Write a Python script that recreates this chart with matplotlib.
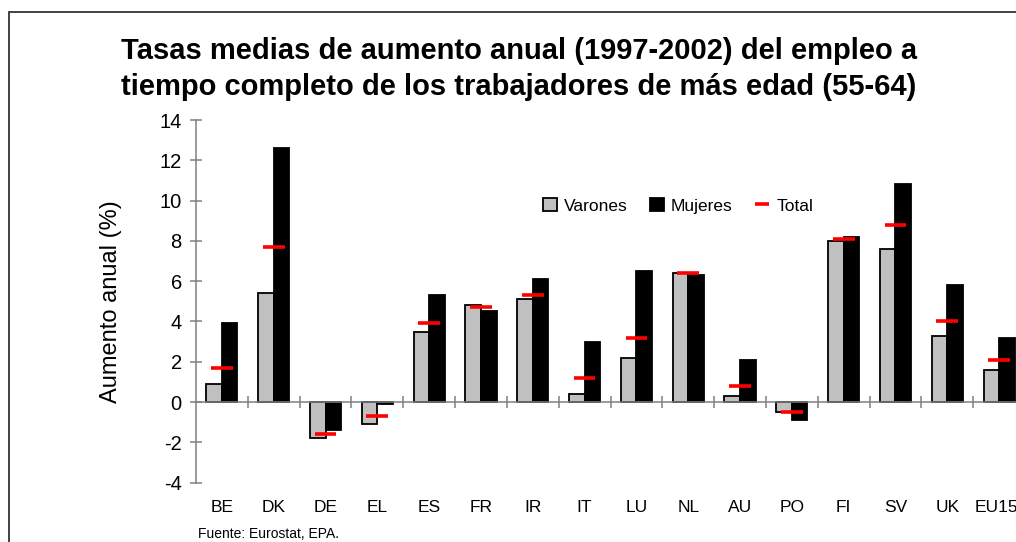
import numpy as np
import matplotlib
matplotlib.use("Agg")
import matplotlib.pyplot as plt
from matplotlib.patches import Rectangle

plt.rcParams['font.family'] = ['Liberation Sans', 'DejaVu Sans']
plt.rcParams['axes.unicode_minus'] = False

categories = ["BE", "DK", "DE", "EL", "ES", "FR", "IR", "IT", "LU", "NL",
              "AU", "PO", "FI", "SV", "UK", "EU15"]
varones = [0.9, 5.4, -1.8, -1.1, 3.5, 4.8, 5.1, 0.4, 2.2, 6.4,
           0.3, -0.5, 8.0, 7.6, 3.3, 1.6]
mujeres = [3.9, 12.6, -1.4, -0.1, 5.3, 4.5, 6.1, 3.0, 6.5, 6.3,
           2.1, -0.9, 8.2, 10.8, 5.8, 3.2]
total = [1.7, 7.7, -1.6, -0.7, 3.9, 4.7, 5.3, 1.2, 3.2, 6.4,
         0.8, -0.5, 8.1, 8.8, 4.0, 2.1]
yticks = [-4, -2, 0, 2, 4, 6, 8, 10, 12, 14]

W, H = 1016, 542
fig = plt.figure(figsize=(W / 100, H / 100), dpi=100)

# outer chart border (extends beyond right/bottom edges)
fig.patches.append(Rectangle((9 / W, -0.1), 1.2, 1 - 12 / H + 0.1,
                             transform=fig.transFigure, fill=False,
                             edgecolor='#333333', linewidth=1.3))

ax_left, ax_right = 196, 1025
ax_top, ax_bottom = 120, 482.6
ax = fig.add_axes([ax_left / W, 1 - ax_bottom / H,
                   (ax_right - ax_left) / W, (ax_bottom - ax_top) / H])

x = np.arange(len(categories))
bw = 0.3
h_v = ax.bar(x - bw / 2, varones, width=bw, color='#c0c0c0',
             edgecolor='black', linewidth=1.3, label='Varones')
h_m = ax.bar(x + bw / 2, mujeres, width=bw, color='black',
             edgecolor='black', linewidth=1.3, label='Mujeres')
h_t = ax.hlines(total, x - 0.21, x + 0.21, colors='#ff0000', linewidth=2.6,
                label='Total', zorder=4)

ax.set_xlim(-0.5, len(categories) - 0.5)
ax.set_ylim(-4, 14)

for s in ['top', 'right']:
    ax.spines[s].set_visible(False)
ax.spines['left'].set_color('#808080')
ax.spines['bottom'].set_color('#808080')
ax.spines['bottom'].set_position(('data', 0))
ax.spines['bottom'].set_linewidth(1.1)
ax.spines['left'].set_linewidth(1.1)

ax.set_yticks(yticks)
ax.tick_params(axis='y', direction='inout', length=8.5, width=1.1,
               color='#808080', labelsize=14.5, pad=6)
ax.set_xticks(np.arange(0.5, len(categories), 1))
ax.set_xticklabels([])
ax.tick_params(axis='x', direction='inout', length=8.5, width=1.1,
               color='#808080')

for i, lab in enumerate(categories):
    xi = i - 0.06 if i == len(categories) - 1 else i
    ax.text(xi, -5.25, lab, ha='center', va='center', fontsize=12.5,
            clip_on=False)

ax.set_ylabel('Aumento anual (%)', fontsize=17)
ax.yaxis.set_label_coords(-0.0893, 0.5)

fig.text(519 / W, 1 - 69 / H,
         'Tasas medias de aumento anual (1997-2002) del empleo a\n'
         'tiempo completo de los trabajadores de más edad (55-64)',
         ha='center', va='center', fontsize=21, fontweight='bold',
         linespacing=1.4)

fig.text(198 / W, 1 - 534 / H, 'Fuente: Eurostat, EPA.', ha='left',
         va='center', fontsize=10)

fig.legend([h_v, h_m, h_t], ['Varones', 'Mujeres', 'Total'],
           loc='center', bbox_to_anchor=(678 / W, 1 - 205.7 / H),
           bbox_transform=fig.transFigure, ncol=3, frameon=False,
           fontsize=12.5, handlelength=0.8, handleheight=0.8,
           handletextpad=0.4, columnspacing=1.3)

fig.savefig('out.png', dpi=100)
